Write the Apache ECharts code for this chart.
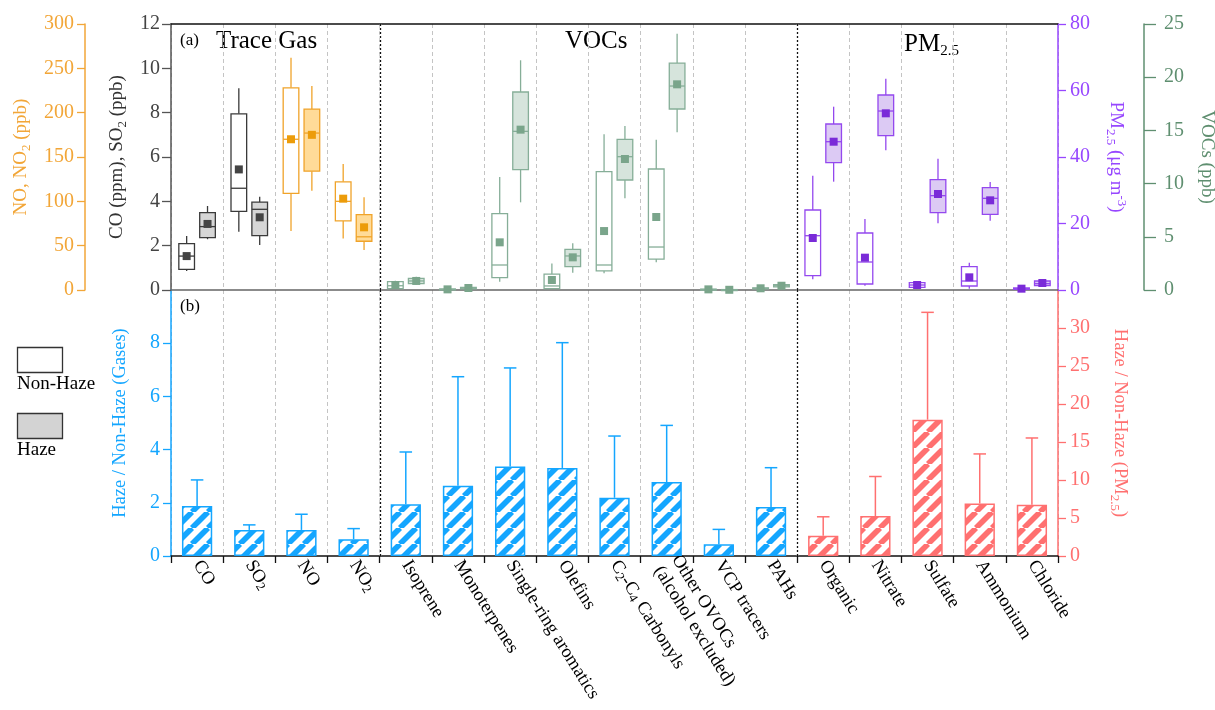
<!DOCTYPE html>
<html>
<head>
<meta charset="utf-8">
<script src="https://cdn.jsdelivr.net/npm/echarts@6/dist/echarts.min.js"></script>
<style>
  html, body { margin: 0; padding: 0; background: #fff; }
  #chart { width: 1215px; height: 710px; }
</style>
</head>
<body>
<div id="chart"></div>
<script>
// ---------------- data ----------------
const categories = ['CO', 'SO2', 'NO', 'NO2', 'Isoprene', 'Monoterpenes', 'Single-ring aromatics',
  'Olefins', 'C2-C4 Carbonyls', 'Other OVOCs\n(alcohol excluded)', 'VCP tracers', 'PAHs',
  'Organic', 'Nitrate', 'Sulfate', 'Ammonium', 'Chloride'];

// which panel-(a) axis each species uses
const speciesGroup = ['gas', 'gas', 'nox', 'nox', 'voc', 'voc', 'voc', 'voc', 'voc', 'voc', 'voc', 'voc',
  'pm', 'pm', 'pm', 'pm', 'pm'];

// box statistics per species: [whisker low, Q1, median, Q3, whisker high, mean]
const nonHazeStats = [
  [0.86, 0.93, 1.53, 2.09, 2.44, 1.53],
  [2.63, 3.55, 4.59, 7.95, 9.10, 5.44],
  [66.5, 109, 170, 228, 262, 170],
  [58, 78, 100, 122, 142, 103],
  [0.10, 0.12, 0.40, 0.78, 0.87, 0.47],
  [0.00, 0.02, 0.05, 0.10, 0.15, 0.06],
  [0.78, 1.16, 2.35, 7.17, 10.62, 4.48],
  [0.10, 0.12, 0.38, 1.50, 2.50, 0.94],
  [1.57, 1.79, 2.35, 11.12, 14.63, 5.54],
  [2.60, 2.91, 4.04, 11.37, 14.13, 6.86],
  [0.00, 0.02, 0.05, 0.08, 0.12, 0.06],
  [0.08, 0.10, 0.15, 0.20, 0.25, 0.16],
  [3.22, 4.31, 16.33, 24.06, 34.38, 15.64],
  [1.30, 1.80, 8.42, 17.14, 21.35, 9.72],
  [0.40, 0.80, 1.50, 2.20, 2.60, 1.50],
  [0.40, 1.20, 2.70, 7.02, 8.22, 3.81],
  [0.10, 0.20, 0.35, 0.60, 0.80, 0.40]
];
const hazeStats = [
  [2.29, 2.36, 2.86, 3.49, 3.79, 2.98],
  [2.03, 2.45, 3.64, 3.96, 4.21, 3.28],
  [112, 134, 177, 204, 230, 175],
  [45, 55, 60, 85, 104.5, 70.7],
  [0.50, 0.60, 0.85, 1.10, 1.25, 0.85],
  [0.05, 0.10, 0.18, 0.25, 0.30, 0.19],
  [8.24, 11.31, 14.91, 18.61, 21.59, 15.07],
  [1.63, 2.19, 3.20, 3.82, 4.39, 3.07],
  [8.62, 10.34, 12.53, 14.16, 15.41, 12.31],
  [14.82, 17.01, 19.17, 21.33, 24.09, 19.33],
  [0.00, 0.01, 0.02, 0.04, 0.06, 0.02],
  [0.25, 0.30, 0.40, 0.50, 0.55, 0.40],
  [32.58, 38.29, 44.60, 49.92, 55.13, 44.60],
  [42.01, 46.41, 53.83, 58.65, 63.55, 53.14],
  [20.05, 23.26, 28.37, 33.18, 39.50, 28.87],
  [20.85, 22.76, 27.57, 30.78, 32.48, 26.97],
  [1.00, 1.30, 1.90, 2.70, 3.00, 2.10]
];

// haze / non-haze ratios (mean and upper error)
const ratioMean = [1.88, 0.98, 0.98, 0.63, 1.95, 2.64, 3.36, 3.31, 2.19, 2.78, 0.44, 1.84,
  2.67, 5.25, 17.94, 6.91, 6.74];
const ratioUpper = [2.86, 1.17, 1.57, 1.03, 3.91, 6.74, 7.07, 8.02, 4.51, 4.91, 1.00, 3.32,
  5.16, 10.46, 32.06, 13.43, 15.53];

// panel-(a) separators between the species families
const familyBreaks = [4, 12];

// ---------------- styles ----------------
const SERIF = '"Liberation Serif", "Times New Roman", serif';
const BLUE = '#14a6ff';
const RED = '#ff7070';
const ORANGE = '#f2a638';
const PURPLE = '#9747ff';
const GREEN = '#5f8f70';

const groupStyle = {
  gas: { axis: 0, stroke: '#3a3a3a', fill: '#d6d6d6', mean: '#444444' },
  nox: { axis: 1, stroke: '#f0a32a', fill: '#ffdb98', mean: '#ec9c0a' },
  pm:  { axis: 2, stroke: '#9448ee', fill: '#dccaf4', mean: '#7a2bd8' },
  voc: { axis: 3, stroke: '#86ae98', fill: '#d6e4dc', mean: '#7aa58b' }
};

const subRich = {
  s: { fontSize: 13, lineHeight: 12, verticalAlign: 'bottom', fontFamily: SERIF },
  p: { fontSize: 13, lineHeight: 12, verticalAlign: 'top', fontFamily: SERIF }
};
function withRich(color, size) {
  const r = {};
  for (const k in subRich) r[k] = Object.assign({ color }, subRich[k]);
  return { color, fontSize: size, fontFamily: SERIF, lineHeight: 24, rich: r };
}

function stripePattern(color) {
  const s = 16;
  const c = document.createElement('canvas');
  c.width = s; c.height = s;
  const ctx = c.getContext('2d');
  ctx.fillStyle = '#ffffff';
  ctx.fillRect(0, 0, s, s);
  ctx.strokeStyle = color;
  ctx.lineWidth = 5.6;
  for (let k = -1; k <= 1; k++) {
    ctx.beginPath();
    ctx.moveTo(k * s, s);
    ctx.lineTo(k * s + s, 0);
    ctx.stroke();
  }
  return { image: c, repeat: 'repeat' };
}

// ---------------- render helpers ----------------
function boxRenderer(st) {
  return function (params, api) {
    const i = api.value(0);
    const hz = api.value(7);
    const band = api.size([1, 0])[0];
    const cx = api.coord([i, 0])[0] + (hz ? 0.2 : -0.2) * band;
    const hw = band * 0.15;
    const py = k => api.coord([i, api.value(k)])[1];
    const lo = py(1), q1 = py(2), md = py(3), q3 = py(4), hi = py(5), mn = py(6);
    const ls = { stroke: st.stroke, lineWidth: 1.3 };
    const m = 4;
    return {
      type: 'group',
      children: [
        { type: 'line', shape: { x1: cx, y1: hi, x2: cx, y2: q3 }, style: ls },
        { type: 'line', shape: { x1: cx, y1: q1, x2: cx, y2: lo }, style: ls },
        { type: 'rect', shape: { x: cx - hw, y: q3, width: 2 * hw, height: Math.max(q1 - q3, 1) },
          style: { fill: hz ? st.fill : '#ffffff', stroke: st.stroke, lineWidth: 1.3 } },
        { type: 'line', shape: { x1: cx - hw, y1: md, x2: cx + hw, y2: md }, style: ls },
        { type: 'rect', shape: { x: cx - m, y: mn - m, width: 2 * m, height: 2 * m }, style: { fill: st.mean } }
      ]
    };
  };
}

function errRenderer(color) {
  return function (params, api) {
    const i = api.value(0);
    const base = api.coord([i, api.value(1)]);
    const top = api.coord([i, api.value(2)]);
    const cap = api.size([1, 0])[0] * 0.24;
    const st = { stroke: color, lineWidth: 1.5 };
    return {
      type: 'group',
      children: [
        { type: 'line', shape: { x1: base[0], y1: base[1], x2: top[0], y2: top[1] }, style: st },
        { type: 'line', shape: { x1: top[0] - cap / 2, y1: top[1], x2: top[0] + cap / 2, y2: top[1] }, style: st }
      ]
    };
  };
}

function breakRenderer(params, api) {
  const i = api.value(0);
  const band = api.size([1, 0])[0];
  const x = Math.round(api.coord([i, 0])[0] - band / 2) + 0.5;
  const cs = params.coordSys;
  return {
    type: 'group',
    children: [
      { type: 'line', shape: { x1: x, y1: cs.y, x2: x, y2: cs.y + cs.height }, style: { stroke: '#fff', lineWidth: 1.5 } },
      { type: 'line', shape: { x1: x, y1: cs.y, x2: x, y2: cs.y + cs.height },
        style: { stroke: '#111', lineWidth: 1.3, lineDash: [2, 2] } }
    ]
  };
}

// ---------------- series ----------------
const series = [];
['gas', 'nox', 'voc', 'pm'].forEach(g => {
  const st = groupStyle[g];
  const data = [];
  categories.forEach((c, i) => {
    if (speciesGroup[i] !== g) return;
    data.push([i].concat(nonHazeStats[i], [0]));
    data.push([i].concat(hazeStats[i], [1]));
  });
  series.push({
    type: 'custom', xAxisIndex: 0, yAxisIndex: st.axis, z: 5,
    renderItem: boxRenderer(st), data,
    encode: { x: 0, y: [1, 2, 3, 4, 5, 6] }
  });
});

series.push({ type: 'custom', xAxisIndex: 0, yAxisIndex: 0, z: 3, renderItem: breakRenderer,
  data: familyBreaks.map(b => [b]), encode: { x: 0 } });
series.push({ type: 'custom', xAxisIndex: 2, yAxisIndex: 4, z: 3, renderItem: breakRenderer,
  data: familyBreaks.map(b => [b]), encode: { x: 0 } });

const nGas = speciesGroup.filter(g => g !== 'pm').length;
series.push({
  type: 'bar', xAxisIndex: 2, yAxisIndex: 4, barWidth: '58%', barGap: '-100%', z: 4,
  data: ratioMean.map((v, i) => (i < nGas ? v : '-')),
  itemStyle: { color: stripePattern(BLUE), borderColor: BLUE, borderWidth: 1.5 }
});
series.push({
  type: 'bar', xAxisIndex: 2, yAxisIndex: 5, barWidth: '58%', barGap: '-100%', z: 4,
  data: ratioMean.map((v, i) => (i >= nGas ? v : '-')),
  itemStyle: { color: stripePattern(RED), borderColor: RED, borderWidth: 1.5 }
});
series.push({
  type: 'custom', xAxisIndex: 2, yAxisIndex: 4, z: 4, renderItem: errRenderer(BLUE),
  data: ratioMean.map((v, i) => [i, v, ratioUpper[i]]).filter(d => d[0] < nGas),
  encode: { x: 0, y: [1, 2] }
});
series.push({
  type: 'custom', xAxisIndex: 2, yAxisIndex: 5, z: 4, renderItem: errRenderer(RED),
  data: ratioMean.map((v, i) => [i, v, ratioUpper[i]]).filter(d => d[0] >= nGas),
  encode: { x: 0, y: [1, 2] }
});

// ---------------- axes ----------------
function yAxis(o) {
  return {
    type: 'value', gridIndex: o.grid, position: o.pos, offset: o.offset || 0,
    min: 0, max: o.max, interval: o.step,
    axisLine: { show: true, onZero: false, lineStyle: { color: o.color, width: 1.5 } },
    axisTick: { show: true, length: o.tick || 8, lineStyle: { color: o.color, width: 1.3 } },
    axisLabel: { color: o.labelColor || o.color, fontSize: 20, fontFamily: SERIF, margin: o.margin || 11,
      showMaxLabel: o.showMax !== false },
    splitLine: { show: false },
    name: o.name, nameLocation: 'middle', nameRotate: o.pos === 'left' ? 90 : -90,
    nameGap: o.gap, nameTextStyle: withRich(o.nameColor || o.color, o.nameSize || 19)
  };
}

const splitDash = { show: true, interval: 0, lineStyle: { color: '#c4c4c4', type: [4, 3], width: 1 } };

const option = {
  animation: false,
  backgroundColor: '#ffffff',
  grid: [
    { left: 171, width: 887, top: 24, height: 266, containLabel: false, outerBoundsMode: 'none' },
    { left: 171, width: 887, top: 290, height: 266, containLabel: false, outerBoundsMode: 'none' }
  ],
  xAxis: [
    { type: 'category', gridIndex: 0, data: categories, position: 'bottom',
      axisLine: { show: true, onZero: false, lineStyle: { color: '#666', width: 1.5 } },
      axisTick: { show: false }, axisLabel: { show: false }, splitLine: splitDash },
    { type: 'category', gridIndex: 0, data: categories, position: 'top',
      axisLine: { show: true, onZero: false, lineStyle: { color: '#111', width: 1.5 } },
      axisTick: { show: false }, axisLabel: { show: false }, splitLine: { show: false } },
    { type: 'category', gridIndex: 1, data: categories, position: 'bottom',
      axisLine: { show: true, onZero: false, lineStyle: { color: '#111', width: 1.5 } },
      axisTick: { show: true, interval: 0, length: 7, lineStyle: { color: '#111', width: 1.3 } },
      axisLabel: {
        interval: 0, rotate: -58, margin: 6, color: '#000', fontSize: 18.5, fontFamily: SERIF,
        lineHeight: 21,
        formatter: v => v.replace(/([A-Z])(\d)/g, '$1{s|$2}'),
        rich: { s: { fontSize: 13, lineHeight: 12, verticalAlign: 'bottom', fontFamily: SERIF, color: '#000' } }
      },
      splitLine: splitDash }
  ],
  yAxis: [
    yAxis({ grid: 0, pos: 'left', max: 12, step: 2, color: '#555', labelColor: '#444', nameColor: '#333',
      name: 'CO (ppm), SO{s|2} (ppb)', gap: 41, tick: 9 }),
    yAxis({ grid: 0, pos: 'left', offset: 86, max: 300, step: 50, color: ORANGE,
      name: 'NO, NO{s|2} (ppb)', gap: 50 }),
    yAxis({ grid: 0, pos: 'right', max: 80, step: 20, color: PURPLE, margin: 12,
      name: 'PM{s|2.5} (μg m{p|-3})', gap: 46 }),
    yAxis({ grid: 0, pos: 'right', offset: 86, max: 25, step: 5, color: GREEN, tick: 12, margin: 20,
      name: 'VOCs (ppb)', gap: 51 }),
    yAxis({ grid: 1, pos: 'left', max: 10, step: 2, color: BLUE, showMax: false,
      name: 'Haze / Non-Haze (Gases)', gap: 39, nameSize: 18.5 }),
    yAxis({ grid: 1, pos: 'right', max: 35, step: 5, color: RED, showMax: false, margin: 12,
      name: 'Haze / Non-Haze (PM{s|2.5})', gap: 50, nameSize: 18.5 })
  ],
  graphic: [
    { type: 'text', left: 180, top: 32, style: { text: '(a)', font: '17px ' + SERIF, fill: '#000' } },
    { type: 'text', left: 216, top: 29, style: { text: 'Trace Gas', font: '25px ' + SERIF, fill: '#000' } },
    { type: 'text', left: 565, top: 29, style: { text: 'VOCs', font: '25px ' + SERIF, fill: '#000' } },
    { type: 'text', left: 904, top: 29, style: {
      text: 'PM{s|2.5}', font: '25px ' + SERIF, fill: '#000', lineHeight: 30,
      rich: { s: { fontSize: 15, lineHeight: 15, verticalAlign: 'bottom', fontFamily: SERIF, fill: '#000' } } } },
    { type: 'text', left: 180, top: 298, style: { text: '(b)', font: '17px ' + SERIF, fill: '#000' } },
    { type: 'rect', shape: { x: 17.5, y: 347.5, width: 45, height: 25 },
      style: { fill: '#ffffff', stroke: '#333', lineWidth: 1.3 } },
    { type: 'text', left: 17, top: 375, style: { text: 'Non-Haze', font: '19px ' + SERIF, fill: '#000' } },
    { type: 'rect', shape: { x: 17.5, y: 413.5, width: 45, height: 25 },
      style: { fill: '#d3d3d3', stroke: '#333', lineWidth: 1.3 } },
    { type: 'text', left: 17, top: 441, style: { text: 'Haze', font: '19px ' + SERIF, fill: '#000' } }
  ],
  series
};

const chart = echarts.init(document.getElementById('chart'), null, { renderer: 'canvas' });
chart.setOption(option);
</script>
</body>
</html>
